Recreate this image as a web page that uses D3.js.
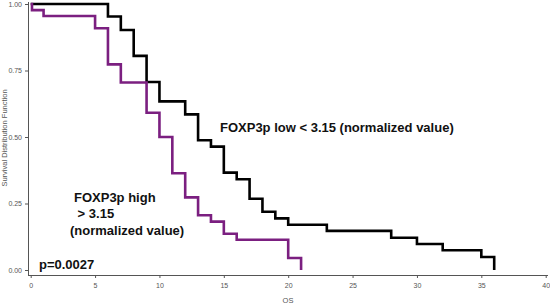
<!DOCTYPE html>
<html><head><meta charset="utf-8">
<script src="https://cdn.jsdelivr.net/npm/d3@7"></script>
<style>body{margin:0;background:#fff}svg{display:block}</style>
</head><body>
<svg id="c" width="550" height="304"></svg>
<script>
// Data
const lowTimes  = [0, 6, 7, 8, 9, 10, 12, 13, 14, 15, 16, 17, 18, 19, 20, 23, 28, 30, 32, 35, 36];
const lowSurv   = [1, 0.953, 0.902, 0.805, 0.707, 0.634, 0.585, 0.488, 0.464, 0.366, 0.341, 0.268, 0.219, 0.194, 0.170, 0.147, 0.121, 0.098, 0.074, 0.049, 0];
const highTimes = [0, 0.1, 1, 5, 6, 7, 9, 10, 11, 12, 13, 14, 15, 16, 20, 21];
const highSurv  = [1, 0.977, 0.955, 0.909, 0.773, 0.705, 0.591, 0.5, 0.364, 0.273, 0.206, 0.182, 0.136, 0.114, 0.045, 0];
const xTicks = [0, 5, 10, 15, 20, 25, 30, 35, 40];
const yTicks = [0, 0.25, 0.5, 0.75, 1];

const svg = d3.select("#c");
const x = d3.scaleLinear().domain([0, 40]).range([30.7, 545.7]);
const y = d3.scaleLinear().domain([0, 1]).range([270, 4]);

// axes
const gx = svg.append("g").attr("transform", "translate(0,275)")
  .call(d3.axisBottom(x).tickValues(xTicks).tickSize(3).tickPadding(5).tickSizeOuter(0));
gx.select(".domain").attr("d", "M28,0.5H548");
const gy = svg.append("g").attr("transform", "translate(28,0)")
  .call(d3.axisLeft(y).tickValues(yTicks).tickSize(3).tickPadding(3).tickFormat(d3.format(".2f")).tickSizeOuter(0));
gy.select(".domain").attr("d", "M0.5,2V275");
svg.selectAll(".domain").attr("stroke", "#555");
svg.selectAll(".tick line").attr("stroke", "#555");
svg.selectAll(".tick text").attr("fill", "#555").attr("font-family", "Liberation Sans, Arial, sans-serif").attr("font-size", 7);

// axis titles
svg.append("text").attr("x", 288).attr("y", 303).attr("text-anchor", "middle")
  .attr("font-family", "Liberation Sans, Arial, sans-serif").attr("font-size", 7.5).attr("fill", "#555").text("OS");
svg.append("text").attr("transform", "translate(7,138) rotate(-90)").attr("text-anchor", "middle")
  .attr("font-family", "Liberation Sans, Arial, sans-serif").attr("font-size", 7.5).attr("fill", "#555")
  .text("Survival Distribution Function");

// curves
const line = d3.line().x(d => x(d[0])).y(d => y(d[1])).curve(d3.curveStepAfter);
const lowData = lowTimes.map((t, i) => [t, lowSurv[i]]);
const highData = highTimes.map((t, i) => [t, highSurv[i]]);
svg.append("path").datum(lowData).attr("d", line).attr("fill", "none").attr("stroke", "#000").attr("stroke-width", 2.6);
svg.append("path").datum(highData).attr("d", line).attr("fill", "none").attr("stroke", "#7b1f80").attr("stroke-width", 2.6);

// annotations
const ann = (tx, ty, s) => svg.append("text").attr("x", tx).attr("y", ty)
  .attr("font-family", "Liberation Sans, Arial, sans-serif").attr("font-weight", "bold")
  .attr("font-size", 13).attr("fill", "#111").attr("xml:space", "preserve").style("white-space", "pre").text(s);
ann(220, 132, "FOXP3p low < 3.15 (normalized value)");
ann(74, 202, "FOXP3p high");
ann(74, 218, " > 3.15");
ann(70, 235, "(normalized value)");
ann(39, 269, "p=0.0027");
</script>
</body></html>
